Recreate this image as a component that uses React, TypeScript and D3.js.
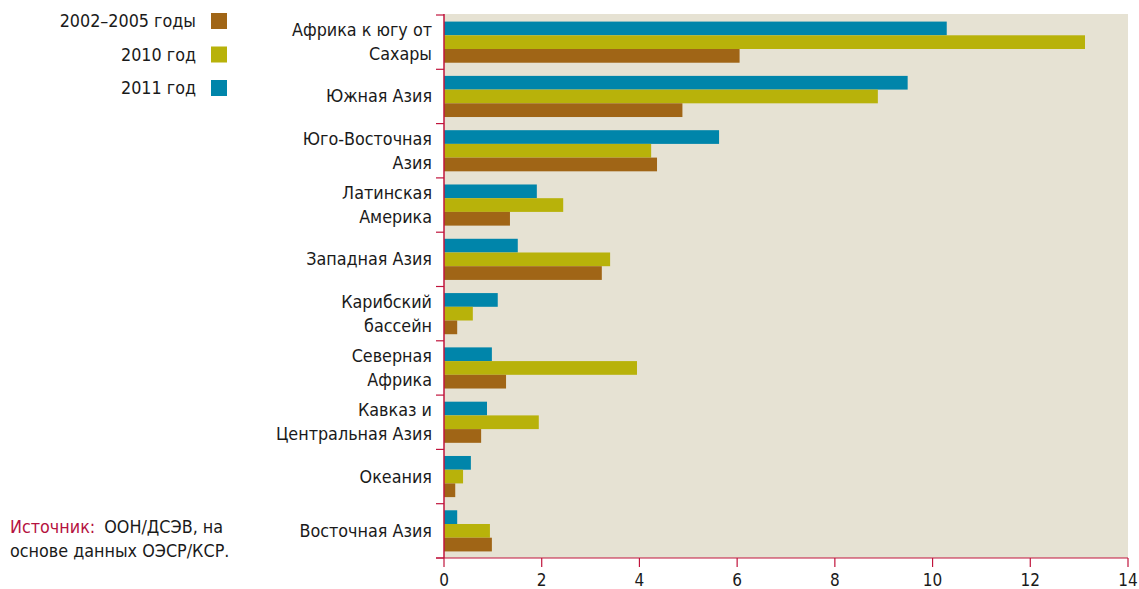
import React from "react";
import * as d3 from "d3";

const regions: string[][] = [
  ["Африка к югу от", "Сахары"],
  ["Южная Азия"],
  ["Юго-Восточная", "Азия"],
  ["Латинская", "Америка"],
  ["Западная Азия"],
  ["Карибский", "бассейн"],
  ["Северная", "Африка"],
  ["Кавказ и", "Центральная Азия"],
  ["Океания"],
  ["Восточная Азия"],
];
const v2011 = [10.29, 9.49, 5.63, 1.9, 1.51, 1.1, 0.98, 0.88, 0.55, 0.27];
const v2010 = [13.12, 8.88, 4.24, 2.44, 3.4, 0.59, 3.95, 1.94, 0.39, 0.94];
const v2002 = [6.05, 4.88, 4.36, 1.35, 3.23, 0.27, 1.27, 0.76, 0.23, 0.98];
const seriesNames = ["2002–2005 годы", "2010 год", "2011 год"];
const xTicks = [0, 2, 4, 6, 8, 10, 12, 14];

const COLORS = { s2011: "#0085AA", s2010: "#B8B20A", s2002: "#A06516" };
const AXIS = "#C0143C";
const BG = "#E6E2D3";
const FONT = "'Liberation Sans Narrow', 'DejaVu Sans Condensed', 'Open Sans', sans-serif";

export default function App() {
  const W = 1139, H = 589;
  const x0 = 444, x1 = 1128, yTop = 14, yBot = 558;
  const x = d3.scaleLinear().domain([0, 14]).range([x0, x1]);
  const idx = regions.map((_, i) => String(i));
  const y = d3.scaleBand().domain(idx).range([yTop + 1, yBot]).paddingInner(0).paddingOuter(0);
  const inner = d3.scaleBand().domain(["s2011", "s2010", "s2002"]).range([0, y.bandwidth()]).paddingOuter(0.48).paddingInner(0);
  const series: [keyof typeof COLORS, number[]][] = [["s2011", v2011], ["s2010", v2010], ["s2002", v2002]];
  const legend: [string, string][] = [[seriesNames[0], COLORS.s2002], [seriesNames[1], COLORS.s2010], [seriesNames[2], COLORS.s2011]];

  return (
    <svg width={W} height={H} style={{ position: "absolute", left: 0, top: 0, fontFamily: FONT }}>
      <rect x={0} y={0} width={W} height={H} fill="#fff" />
      <rect x={x0} y={yTop} width={x1 - x0} height={yBot - yTop} fill={BG} />
      {series.map(([k, vals]) =>
        vals.map((v, i) => (
          <rect key={k + i} x={x(0)} y={(y(String(i)) as number) + (inner(k) as number)} width={x(v) - x(0)} height={inner.bandwidth()} fill={COLORS[k]} />
        ))
      )}
      {/* left axis */}
      <line x1={x0} x2={x0} y1={yTop} y2={yBot} stroke={AXIS} strokeWidth={1.5} />
      {d3.range(regions.length + 1).map((i) => {
        const yy = yTop + 1 + i * y.step();
        return <line key={"lt" + i} x1={x0 - 8} x2={x0} y1={yy} y2={yy} stroke={AXIS} strokeWidth={1.2} />;
      })}
      {/* bottom axis */}
      <line x1={x0 - 8} x2={x1} y1={yBot} y2={yBot} stroke={AXIS} strokeWidth={1.2} />
      {xTicks.map((t) => (
        <g key={"xt" + t}>
          <line x1={x(t)} x2={x(t)} y1={yBot} y2={yBot + 9} stroke={AXIS} strokeWidth={1.2} />
          <text x={x(t)} y={586} textAnchor="middle" fontSize={17} fill="#1a1a1a">{t}</text>
        </g>
      ))}
      {/* category labels */}
      {regions.map((lines, i) => {
        const cy = (y(String(i)) as number) + y.bandwidth() / 2;
        const lh = 24;
        const start = cy - ((lines.length - 1) * lh) / 2;
        return (
          <text key={"c" + i} textAnchor="end" fontSize={17.8} fill="#1a1a1a">
            {lines.map((l, j) => (
              <tspan key={j} x={432} y={start + j * lh + 6}>{l}</tspan>
            ))}
          </text>
        );
      })}
      {/* legend */}
      {legend.map(([name, c], i) => {
        const cy = 21 + i * 33.5;
        return (
          <g key={"lg" + i}>
            <text x={196} y={cy + 6} textAnchor="end" fontSize={17.8} fill="#1a1a1a">{name}</text>
            <rect x={211} y={cy - 8} width={16} height={16} fill={c} />
          </g>
        );
      })}
      {/* source */}
      <text x={10} y={533} fontSize={17.8} fill="#1a1a1a">
        <tspan fill="#B5123F">Источник:</tspan>
        <tspan dx={9}>ООН/ДСЭВ, на</tspan>
      </text>
      <text x={10} y={557} fontSize={17.8} fill="#1a1a1a">основе данных ОЭСР/КСР.</text>
    </svg>
  );
}
